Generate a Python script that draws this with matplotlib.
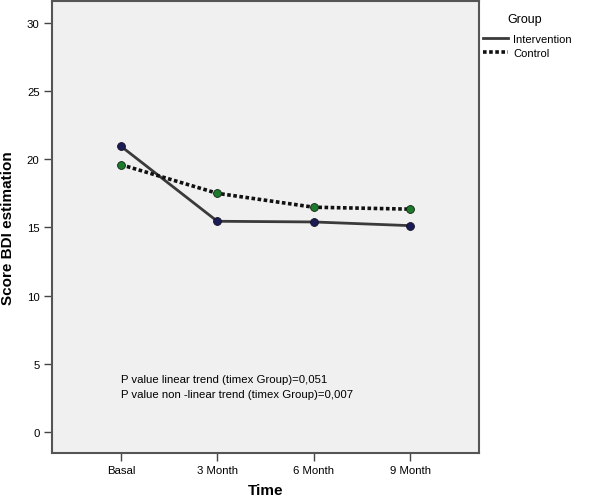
import matplotlib.pyplot as plt
from matplotlib.lines import Line2D

plt.rcParams['font.family'] = ['Liberation Sans', 'DejaVu Sans']

times = ["Basal", "3 Month", "6 Month", "9 Month"]
intervention = [20.95, 15.45, 15.4, 15.13]
control = [19.6, 17.5, 16.48, 16.34]
yticks = [0, 5, 10, 15, 20, 25, 30]

fig = plt.figure(figsize=(6, 5.02), dpi=100)
ax = fig.add_axes([52 / 600, 1 - 454 / 502, 427 / 600, 452 / 502])
ax.set_facecolor("#f0f0f0")

x = list(range(len(times)))
dotted = (0, (1, 0.7))
ax.plot(x, intervention, color="#3a3a3a", lw=2, linestyle="-", zorder=2)
ax.plot(x, control, color="#111111", lw=2.6, linestyle=dotted, zorder=2)
ax.scatter(x, intervention, s=32, color="#1b1b55", edgecolors="#111122", linewidths=0.6, zorder=3)
ax.scatter(x, control, s=32, color="#1d7a2c", edgecolors="#112211", linewidths=0.6, zorder=3)

ax.set_xlim(-0.716, 3.716)
ax.set_ylim(-1.54, 31.6)
ax.set_xticks(x)
ax.set_xticklabels(times, fontsize=8.2)
ax.set_yticks(yticks)
ax.set_yticklabels([str(t) for t in yticks], fontsize=8.2)
ax.tick_params(direction="out", length=6, width=1, color="#444444", pad=3)
for s in ax.spines.values():
    s.set_color("#555555")
    s.set_linewidth(1.5)

ax.set_xlabel("Time", fontsize=11, fontweight="bold")
ax.xaxis.set_label_coords(0.5, -(491 - 454) / 452, transform=ax.transAxes)
ax.set_ylabel("Score BDI estimation", fontsize=11, fontweight="bold")
ax.yaxis.set_label_coords(-(52 - 8) / 427, 0.5, transform=ax.transAxes)
ax.xaxis.label.set_va("center")
ax.yaxis.label.set_va("center")

ax.text(0, 3.92, "P value linear trend (timex Group)=0,051", fontsize=8.2, va="center")
ax.text(0, 2.79, "P value non -linear trend (timex Group)=0,007", fontsize=8.2, va="center")

handles = [Line2D([0], [0], color="#3a3a3a", lw=2),
           Line2D([0], [0], color="#111111", lw=2.6, linestyle=dotted)]
fig.legend(handles, ["Intervention", "Control"], loc="upper left",
           bbox_to_anchor=(483 / 600, 1 - 35 / 502), frameon=False,
           fontsize=8, handlelength=2.25, handletextpad=0.45,
           labelspacing=0.35, borderaxespad=0, borderpad=0)
fig.text(525 / 600, 1 - 20 / 502, "Group", fontsize=9, ha="center", va="center")

fig.savefig("out.png", dpi=100)
